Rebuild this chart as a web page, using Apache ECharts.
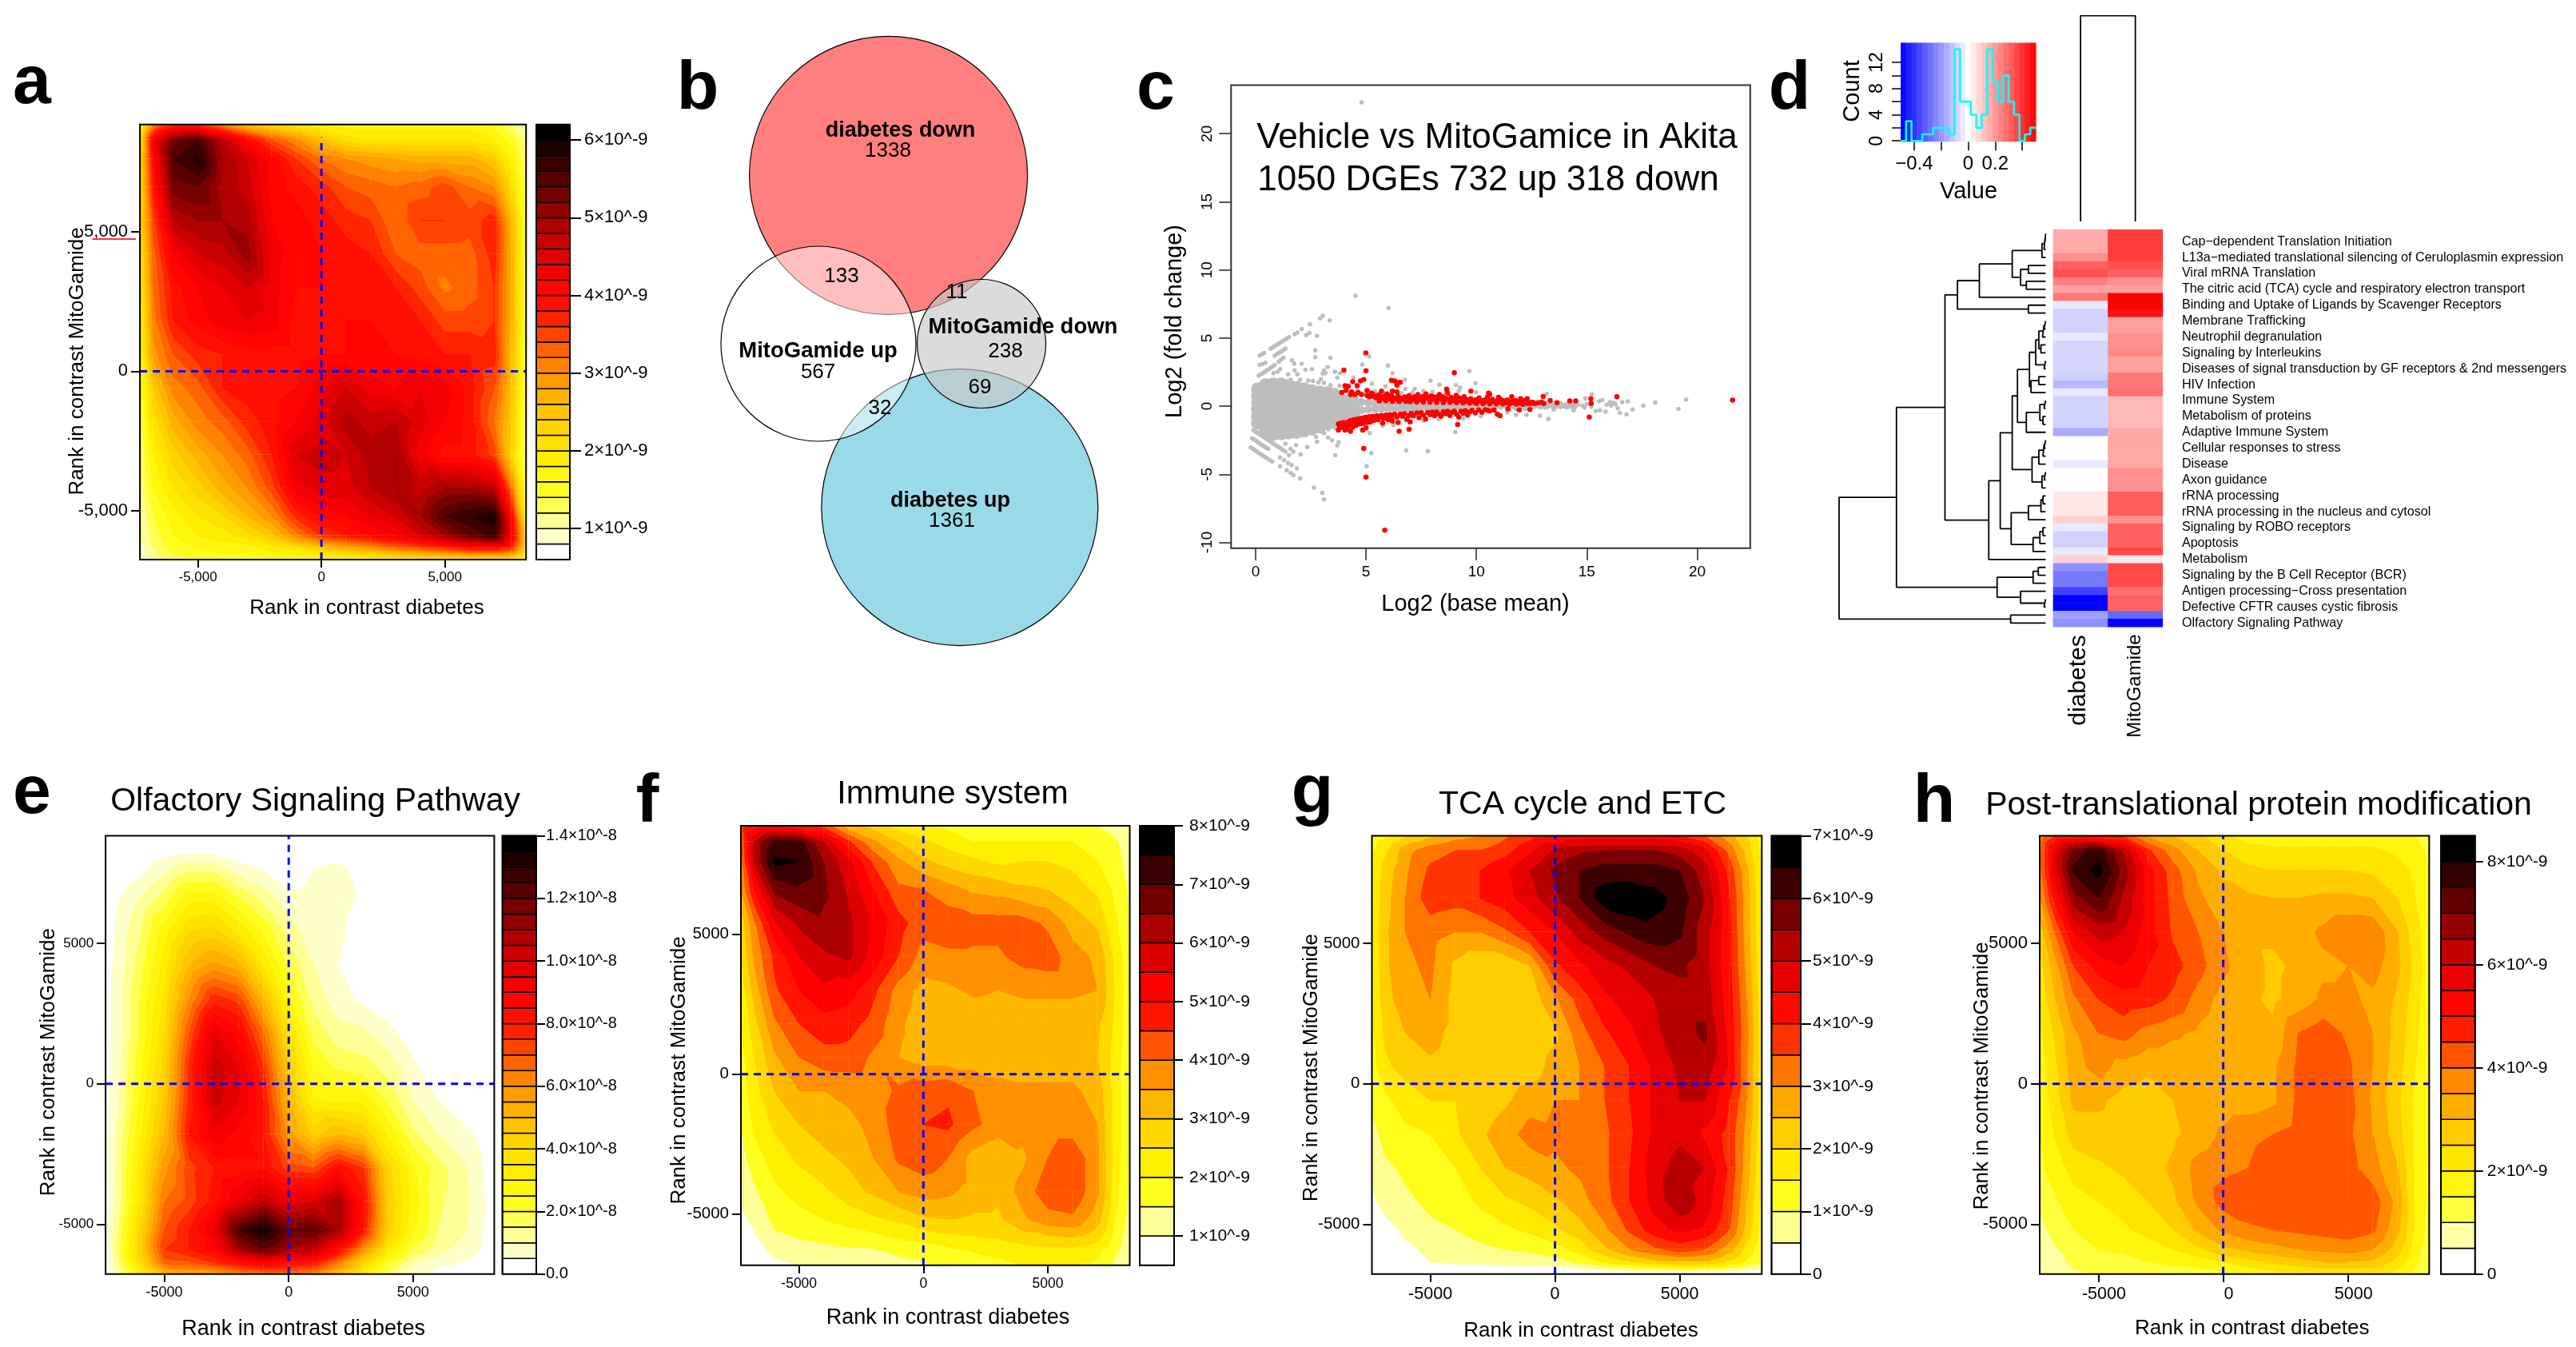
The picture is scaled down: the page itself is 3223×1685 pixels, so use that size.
<!DOCTYPE html>
<html><head><meta charset="utf-8"><style>html,body{margin:0;padding:0;background:#fff}#c{width:3223px;height:1685px}</style>
<script src="https://cdn.jsdelivr.net/npm/echarts@6/dist/echarts.min.js"></script></head><body><div id="c"></div>
<script>
// ---------- DATA ----------
const xNodes=[-7400,-6800,-6000,-5000,-4000,-3000,-2000,-1000,0,1000,2000,3000,4000,5000,6000,7000,7700,8300];
const yNodes=[8900,8300,7600,6600,5400,4200,3000,1800,600,-600,-1800,-3000,-4200,-5200,-5900,-6350,-6850];
const matA=[
[1.5,3,3.6,3.6,3.0,2.5,2.2,2,1.8,1.7,1.7,1.7,1.7,1.7,1.7,1.5,1.2,0.9],
[2,4.2,5.3,5.6,4.8,4,3.4,3,2.5,2.1,2,2,2,2,2,1.8,1.5,1.1],
[2.2,4,5.6,5.9,5,4.6,4.1,3.6,3.2,3,2.9,2.8,2.7,2.7,2.7,2.4,1.8,1.2],
[2.2,3.8,5.3,5.4,4.9,4.7,4.1,3.9,3.7,3.4,3.3,3.2,3.3,3.5,3.2,3,2.2,1.3],
[2.2,3.5,4.8,5,5,4.9,4.2,4.1,3.9,3.7,3.6,3.2,3.6,3.6,3.5,3.7,2.6,1.4],
[2,3.3,4.2,4.6,4.7,5.1,4.3,4.1,4,3.9,3.8,3.4,3.3,3.3,3.3,3.7,2.7,1.4],
[1.9,3.2,3.9,4.2,4.4,4.6,4.3,4,4,3.9,3.9,3.8,3.5,3.15,3.3,3.6,2.7,1.4],
[1.8,3.1,3.8,4.1,4.3,4.4,4.3,3.9,3.9,4,4,3.9,3.8,3.5,3.5,3.6,2.7,1.4],
[1.7,2.9,3.4,3.7,3.8,3.9,3.9,3.9,4,4,4,4,3.9,3.8,3.8,3.7,2.6,1.3],
[1.5,2.4,3.1,3.3,3.8,3.9,3.9,4,4.3,4.6,4.3,4.2,4.4,4.3,3.9,3.4,2.5,1.3],
[1.3,2.1,2.7,3.1,3.3,3.7,3.9,4.2,4.5,4.9,4.7,4.8,4.5,4.2,3.9,3.2,2.4,1.2],
[1.2,1.8,2.3,2.7,3,3.3,3.8,4.6,4.7,4.6,4.9,5,4.3,3.9,3.9,3.5,2.3,1.1],
[1.1,1.6,2,2.3,2.7,3,3.5,4.3,4.5,4.5,4.8,5,4.7,5,5,4.8,3.2,1.4],
[1,1.4,1.7,2,2.2,2.6,3,3.7,4,4.2,4.4,4.6,5,5.6,5.8,5.9,4,1.8],
[1,1.3,1.6,1.8,1.9,2.1,2.5,3.1,3.6,3.8,4,4.2,4.6,5,5.4,5.7,4.2,2.3],
[.9,1.2,1.5,1.6,1.7,1.7,1.9,2.1,2.4,2.7,2.9,3.2,3.4,3.6,3.9,3.9,3.6,2.2],
[.8,1.1,1.3,1.4,1.5,1.5,1.6,1.6,1.7,1.7,1.8,1.9,2,2,2.1,2,2,1.4]];
const matE=[
[0,0,0,0,0,0,0,0,0,0,0,0,0,0,0,0,0,0],
[0,0,0,.2,.3,.3,.1,0,0,.1,.2,0,0,0,0,0,0,0],
[0,0,.3,.9,1.4,1.4,.8,.5,.2,.5,.7,.2,0,0,0,0,0,0],
[0,.5,1,1.7,2.8,2.8,2,1.3,.6,.7,.7,.4,0,0,0,0,0,0],
[.2,.7,1.4,2.8,4,4.2,3.4,2.4,1.3,.7,.6,.2,0,0,0,0,0,0],
[.3,.7,1.7,3.2,5,5.7,5.2,3.4,1.9,1,.5,.1,0,0,0,0,0,0],
[.3,.8,2,3.6,6,7.8,7.3,5,2.6,1.3,.7,.4,.1,0,0,0,0,0],
[.3,.8,2,3.9,7,9.5,8.7,6.5,3.6,1.8,1.2,1.1,.7,.2,0,0,0,0],
[.3,.9,2.3,4.2,7.6,10.3,9.5,7.5,4.4,2.4,1.9,1.7,1.3,.6,.1,0,0,0],
[.3,1,2.5,4.6,7.7,10.2,9.5,8,5,3,2.9,2.9,1.9,1,.5,.1,0,0],
[.3,1.2,2.8,5,8,9.3,8.8,8,5.7,4.3,5,4.5,2.9,1.6,1,.7,.4,0],
[.3,1.3,3.2,5.8,7.3,8,8.2,8.4,7.2,7,8.4,7.5,4.2,2.6,1.7,1.1,.6,.1],
[.2,1.3,3.4,6.5,7.2,8.2,9.5,10.5,9.5,10,11,8.3,4.5,2.8,1.6,1.2,.7,.1],
[.2,1.6,4,7,8,9.5,12.5,13.5,12,12.2,11,8,4.4,2.6,1.5,1.1,.6,.1],
[.2,1.8,4.2,7.5,8,8.7,11,12,11,10.5,8.5,6,3.4,1.9,1.2,.8,.5,.1],
[.2,1.5,3.8,6.8,7,7.6,8.5,9,8.5,8.2,6.5,4.2,2.2,1.1,.6,.5,.3,0],
[.2,1.2,3,5,5.4,5.5,6,6.4,6.4,6,4.6,3,1.5,.6,.3,.3,.2,0]];
const matF=[
[4.2,4.7,4.8,4.5,4.3,3.2,2.8,2.3,2,1.9,1.8,1.8,1.8,1.7,1.6,1.5,1.2,1.1],
[4,6,7.2,7.2,6,4.6,3.6,3,2.6,2.3,2,2,2,2,2,1.8,1.6,1.2],
[3.8,6,7.6,7.5,6.5,5.6,4.4,3.6,3.1,2.8,2.6,2.4,2.5,2.5,2.4,2,1.7,1.3],
[3.5,5,6.6,6.9,6.6,5.9,5,4.1,4,3.7,3.4,3.3,3.1,3,2.7,2.4,1.9,1.4],
[2.7,3.9,5.4,6.1,6.4,6.1,5.4,4.7,4.2,4.3,4.2,4.2,4.2,3.9,3.3,2.9,2.1,1.5],
[2.5,3.6,4.6,5.5,5.9,6.1,5.3,4.5,3.8,3.9,3.9,3.9,4.2,4.3,3.7,3.4,2.4,1.6],
[2.2,3.2,4.4,5,5.4,5.2,4.6,3.8,3.3,3.4,3.6,3.5,3.6,3.6,3.6,3.5,2.5,1.6],
[2,2.8,3.9,4.5,4.8,4.7,4.3,3.6,3.2,3.1,3.1,3.1,3.2,3.2,3.2,3.1,2.4,1.6],
[1.8,2.5,3.4,4,4.3,4.3,3.9,3.5,3.2,3.2,3.2,3.2,3.2,3.2,3.2,3,2.3,1.6],
[1.7,2.3,3,3.5,3.5,3.6,3.7,4.1,4.3,4.4,4,3.7,3.6,3.6,3.6,3.3,2.3,1.5],
[1.5,2.1,2.6,3,3.2,3.4,3.6,4.3,4.5,4.6,4.1,3.8,3.7,3.7,3.7,3.5,2.3,1.5],
[1.3,1.8,2.2,2.6,2.9,3.1,3.5,4.1,4.3,4,3.3,3,3.4,4,4.4,3.6,2.3,1.5],
[1.1,1.4,1.9,2.2,2.4,2.8,3.1,3.5,3.7,3.6,3.3,3.1,3.7,4.3,4.4,3.6,2.2,1.4],
[.9,1.1,1.6,1.8,2,2.2,2.4,2.6,2.9,3,2.9,2.9,3.4,3.8,3.9,3.2,2,1.3],
[.7,.9,1.4,1.5,1.6,1.7,1.8,2,2.1,2.3,2.4,2.5,2.7,2.8,2.9,2.6,1.8,1.2],
[.7,.8,1.1,1.2,1.3,1.4,1.4,1.6,1.7,1.8,2,2.1,2.2,2.3,2.3,2.1,1.6,1.1],
[.6,.7,.9,1,1.1,1.2,1.2,1.3,1.4,1.6,1.8,1.9,2,2,2,1.9,1.4,1]];
const matG=[
[1.2,1.4,1.9,2.4,2.8,3,3.4,3.8,4,4.2,4.2,4.2,4.2,4,3.5,2.7,2,1.3],
[1.4,1.9,2.8,3.3,3.5,3.5,3.8,4.4,5.1,5.4,5.5,5.5,5.5,5.3,4.7,3.3,2.3,1.4],
[1.5,2.2,2.9,3.6,3.8,4,4.4,5,5.6,6,6.2,6.2,6.2,6,5.2,3.8,2.6,1.5],
[1.5,2.3,3,3.8,3.7,4,4.3,4.8,5.4,6,6.8,6.9,6.7,6.3,5.5,4,2.7,1.5],
[1.5,2.4,3,3.2,3,3,3.4,4,4.5,5.2,5.7,6.1,6.3,6.1,5.2,4.1,2.7,1.5],
[1.5,2.4,2.9,3.1,2.4,2.1,2.1,2.5,3.9,4.4,4.8,5.1,5.5,5.6,5.2,4.1,2.8,1.6],
[1.5,2.3,2.8,3,2.3,2.1,2.05,2.2,2.9,3.7,4.4,4.7,5,5.3,5.3,4.2,3,1.7],
[1.4,2.1,2.5,2.7,2.3,2.1,2.1,2.1,2.4,3.3,3.9,4.4,4.9,5.3,5.6,4.3,3.1,1.7],
[1.3,1.9,2.2,2.4,2.2,2.1,2.1,2.2,2.7,3,3.5,4,4.6,5.1,5.3,4.4,3,1.7],
[1.1,1.4,1.7,2,2,2.1,2.4,2.8,3,3,3.5,4,4.6,5,5,4,3,1.7],
[.8,1.2,1.4,1.5,1.9,2.4,2.8,3.2,3.1,3.1,3.4,3.9,4.6,4.9,4.4,3.8,2.8,1.6],
[.6,.9,1.1,1.3,1.5,2,2.5,2.7,2.9,3.1,3.4,4,4.8,5.2,5,3.9,2.7,1.5],
[.4,.7,.9,1.1,1.2,1.6,1.9,2.1,2.4,2.8,3.3,4,4.7,5.4,4.8,3.7,2.5,1.4],
[.2,.3,.6,.9,1,1.2,1.4,1.6,1.9,2.3,2.9,3.6,4.3,4.6,4.4,3.5,2.3,1.3],
[0,.1,.4,.6,.8,.9,1,1.1,1.3,1.7,2.4,3,3.4,3.7,3.5,2.7,1.8,1.1],
[0,0,.2,.5,.6,.6,.7,.7,.8,1.1,1.6,2,2.3,2.5,2.4,1.9,1.4,1],
[0,0,0,0,0,0,0,0,0,0,0,0,0,0,0,0,0,0]];
const matH=[
[3.6,4.4,4.6,4.5,4.4,3.4,3,2.6,2.1,1.8,1.7,1.7,1.7,1.7,1.7,1.7,1.5,1.3],
[3.8,5.6,7.2,7.8,6.4,4.6,3.7,3,2.5,2.2,2.1,2.1,2.1,2.1,2.1,1.9,1.7,1.4],
[3.8,5.6,7.6,8.2,6.8,5.2,4.2,3.4,2.9,2.6,2.5,2.5,2.5,2.5,2.4,2.2,1.9,1.5],
[3.4,5,6.8,7.5,6.4,5.2,4.3,3.6,3.2,3.1,3,3,3.1,3.1,3,2.5,2,1.6],
[2.7,3.9,5.5,6.2,6,5.2,4.4,4,3.5,3.1,3.1,3.3,3.6,3.9,3.9,3,2.2,1.7],
[2.3,3.2,4.5,5.2,5.5,5,4.7,4.2,3.6,3.2,2.9,3.1,3.4,3.5,3.7,3.1,2.3,1.7],
[2.1,2.9,3.9,4.5,4.8,4.7,4.4,3.8,3.3,3.1,2.9,3.2,3.6,3.6,3.4,2.9,2.2,1.6],
[1.9,2.5,3.4,4,4.2,3.8,3.6,3.4,3.1,3,3.1,4,4.3,3.9,3.5,2.8,2.1,1.6],
[1.7,2.3,3.3,3.7,3.3,3.1,3.1,3.1,3.2,3.2,3.4,4.1,4.4,4.1,3.5,2.7,2,1.5],
[1.6,2.2,3.1,3.1,2.8,2.7,3,3.1,3.2,3.2,3.4,4.1,4.3,4.2,3.4,2.6,1.9,1.5],
[1.5,2,2.7,2.8,2.7,2.6,2.9,3.2,3.6,3.9,4,4.2,4.3,4.1,3.5,2.7,1.9,1.5],
[1.4,1.7,2.2,2.4,2.6,2.8,3.1,3.7,3.9,4,4.2,4.3,4.3,4.2,3.7,3,1.9,1.4],
[1.1,1.4,1.8,2,2.2,2.5,2.9,3.6,4.2,4.3,4.4,4.4,4.4,4.4,4.3,3.3,1.9,1.4],
[.8,1.2,1.5,1.7,1.9,2.2,2.5,3.1,3.6,3.9,4,4.1,4.2,4.3,4.1,3.1,1.9,1.3],
[.6,.9,1.3,1.5,1.6,1.7,2,2.4,2.9,3.1,3.3,3.5,3.6,3.7,3.5,2.7,1.7,1.2],
[.5,.8,1.1,1.3,1.3,1.5,1.6,1.7,2,2.3,2.6,2.8,3,3,2.9,2.3,1.6,1.1],
[.5,.7,.9,1.1,1.1,1.2,1.3,1.3,1.4,1.6,1.8,1.9,2,2,2,1.8,1.3,1]];

const vennNames=['diabetes down','diabetes up','MitoGamide up','MitoGamide down'];
const vennCounts=[1338,1361,567,238];
const vennOverlaps=[133,11,32,69];
const vennCx=[231.6,320.8,144,348];
const vennCy=[199.4,614.7,410,410];
const vennR=[174,173,122,80.5];

const maTitle=['Vehicle vs MitoGamice in Akita','1050 DGEs 732 up 318 down'];
const grayCore=[[.1,1.25],[.1,.75],[.1,.25],[.1,-.25],[.1,-.75],[.1,-1.25],[.45,1.55],[.45,1],[.45,.45],[.45,-.1],[.45,-.65],[.45,-1.2],[.45,-1.75],[.8,1.6],[.8,1.05],[.8,.5],[.8,-.05],[.8,-.6],[.8,-1.15],[.8,-1.7],[.8,-2.05],[1.15,1.6],[1.15,1.05],[1.15,.5],[1.15,-.05],[1.15,-.6],[1.15,-1.15],[1.15,-1.7],[1.15,-2],[1.5,1.5],[1.5,.95],[1.5,.4],[1.5,-.15],[1.5,-.7],[1.5,-1.25],[1.5,-1.95],[1.85,1.35],[1.85,.8],[1.85,.25],[1.85,-.3],[1.85,-.85],[1.85,-1.4],[1.85,-1.9],[2.2,1.25],[2.2,.7],[2.2,.15],[2.2,-.4],[2.2,-.95],[2.2,-1.5],[2.2,-1.8],[2.55,1.1],[2.55,.55],[2.55,0],[2.55,-.55],[2.55,-1.1],[2.55,-1.65],[2.9,1],[2.9,.45],[2.9,-.1],[2.9,-.65],[2.9,-1.2],[2.9,-1.5],[3.25,.95],[3.25,.4],[3.25,-.15],[3.25,-.7],[3.25,-1.25],[3.55,.85],[3.55,.3],[3.55,-.25],[3.55,-.8],[3.55,-1.15],[3.85,.5],[3.85,0],[3.85,-.5],[3.85,-.9],[4.15,.35],[4.15,-.1],[4.15,-.6],[4.45,.25],[4.45,-.25],[4.45,-.55]];
const grayBand=[[4.8,.3],[4.8,-.3],[5.1,.25],[5.1,-.25],[5.4,.22],[5.4,-.22],[5.7,.2],[5.7,-.2],[6,.18],[6,-.2],[6.3,.15],[6.3,-.2],[6.6,.13],[6.6,-.18],[6.9,.12],[6.9,-.15],[7.2,.12],[7.2,-.15],[7.5,.1],[7.5,-.13],[7.8,.1],[7.8,-.12],[8.1,.08],[8.1,-.1],[8.4,.08],[8.4,-.1],[8.7,.07],[8.7,-.09],[9,.06],[9,-.08],[9.3,.05],[9.3,-.07],[9.6,.05],[9.9,.03],[10.2,.03],[10.5,.02],[10.8,.02],[11.1,.03],[11.4,.04],[11.7,.05],[12,.05],[12.3,.05],[12.6,.06],[12.9,.05],[13.2,.06],[13.5,.05],[13.8,.06],[14.1,.04],[14.4,.02]];
const grayPoints=[[4.8,22.3],[4.53,8.1],[6.02,7.2],[3.04,6.64],[2.92,6.44],[3.35,6.3],[2.46,6],[2.09,5.66],[1.89,5.4],[1.77,5.29],[1.51,5.07],[1.4,4.95],[1.29,4.84],[1.17,4.72],[1.08,4.62],[.99,4.54],[.9,4.45],[.81,4.35],[.69,4.23],[.39,3.9],[.3,3.82],[.18,3.72],[2.44,5.37],[2.29,5.21],[2.78,5.15],[1.35,4.23],[1.26,4.13],[1.17,4.03],[1.08,3.93],[.99,3.84],[.87,3.7],[1.26,3.55],[1.15,3.4],[1.05,3.27],[.45,3.18],[.3,3.08],[.18,3.02],[.87,3.02],[.78,2.92],[.69,2.82],[.6,2.72],[.51,2.63],[.42,2.53],[.33,2.43],[.23,2.33],[.14,2.24],[2.7,4.1],[2.7,3.6],[3.39,3.55],[5.14,3.64],[4.83,3.06],[5.99,2.98],[6.2,2.43],[9.68,2.57],[6.76,1.94],[7.92,1.86],[9.96,1.69],[8.32,1.57],[1.64,3.37],[1.75,3.12],[2.08,3.12],[2.26,2.67],[2.55,2.72],[3.1,2.63],[3.26,2.88],[3.6,2.53],[3.04,2.39],[3.16,2.43],[1.11,2.72],[.99,2.53],[.81,2.43],[1.47,2.33],[1.77,2.63],[1.89,2.33],[3.83,2.43],[3.7,2.1],[2.96,1.98],[2.38,1.88],[2.02,1.94],[1.59,1.94],[4.43,2.1],[5.27,1.65],[5.88,1.45],[6.78,1.26],[7.2,1.26],[9.07,1.55],[9.26,1.36],[9.98,1.02],[13.18,.9],[15.23,.87],[14.93,.57],[2.6,1.85],[2.85,1.75],[3.1,1.7],[3.4,1.55],[3.8,1.5],[4.05,1.35],[4.6,1.15],[5,1],[5.4,1.1],[5.8,.98],[6.6,.95],[7.1,.98],[7.6,1.1],[8,1.05],[8.6,.98],[9.2,1.1],
[-.22,-3.04],[-.12,-3.14],[-.04,-3.24],[.05,-3.33],[.14,-3.43],[.24,-3.53],[.33,-3.63],[.42,-3.73],[.51,-3.83],[.63,-3.95],[.75,-4.06],[1.11,-4.41],[1.41,-4.71],[1.59,-4.9],[1.71,-5.06],[2.02,-5.31],[2.64,-5.98],[3.02,-6.37],[3.1,-6.85],[-.16,-2.36],[-.07,-2.45],[.02,-2.55],[.11,-2.65],[.2,-2.75],[.3,-2.85],[.39,-2.95],[.48,-3.05],[.57,-3.14],[1.11,-3.77],[1.29,-3.97],[1.47,-4.18],[1.63,-4.32],[1.87,-4.57],[-.1,-1.77],[-.01,-1.87],[.08,-1.97],[.18,-2.07],[.27,-2.16],[.36,-2.26],[.45,-2.36],[.54,-2.46],[.63,-2.55],[.72,-2.65],[.81,-2.75],[.9,-2.85],[.99,-2.95],[1.08,-3.05],[1.17,-3.14],[1.26,-3.24],[1.35,-3.34],[1.51,-3.59],[1.35,-2.75],[1.59,-3.14],[1.71,-3.34],[1.83,-2.85],[2.04,-3.55],[2.34,-3],[2.74,-2.26],[3.1,-1.97],[2.78,-2.61],[3.28,-2.3],[3.46,-2.5],[3.76,-2.65],[3.7,-2.89],[3.61,-3.61],[5.17,-1.97],[5.24,-3.45],[5.03,-4.41],[6.82,-3.26],[7.8,-3.3],[9.05,-1.91],[13.26,-.93],[15.59,-.31],[12.88,-.7],[12.27,-.64],[11.79,-.64],[5.76,-1.44],[6.24,-1.38],[2.6,-2],[2.95,-1.85],[3.3,-1.7],[3.6,-1.6],[6.8,-1.05],[7.6,-1.05],[8.3,-.95],[9.4,-.9],[10.2,-.75],[10.9,-.5],[11.4,-.45],
[19.5,.49],[19.15,-.2],[18.1,.27],[17.56,.03],[17.07,-.24],[16.8,-.6],[16.85,.35],[16.6,.3],[16.5,-.5],[16.4,-.15],[16.2,.25],[16.05,.3],[15.9,.1],[15.7,.45],[15.55,.35],[15.4,-.35],[15,.15],[14.8,.05],[14.6,.1],[14.4,-.3],[14.2,.1],[14,0],[13.8,.1],[13.6,-.05],[13.5,-.25],[13.3,.15],[13.1,-.1],[13,.25],[12.8,.1],[16.3,.15],[16.1,.05],[15.85,-.4],[15.2,-.05],[14.9,-.1],[12.5,-.1],[12.2,-.2],[11.8,-.2]];
const redUp=[[4.99,3.9],[4,2.65],[5,2.6],[4.75,1.85],[4.9,1.95],[4.4,1.8],[4.05,1.5],[6.15,1.9],[6.3,1.85],[6.5,1.75],[6.4,1.55],[6.55,1.75],[9,2.45],[8.65,1.25],[9.75,1.1],[10.55,.95],[10.6,.85],[4.6,1.5],[4.2,1.45],[3.9,1],[4.1,1.15],[4.35,1.05],[4.65,1],[4.3,.85],[4.5,.85],[4.8,.85],[5.05,1.15],[5.3,.9],[5.6,.8],[5.7,1.1],[5.95,.9],[6.2,1.1],[6.4,1.05],[6.1,.7],[11,.65],[11.6,.7],[12,.55],[12.3,.55],[13.02,.71],[13.34,.42],[13.65,.26],[14.23,.38],[14.5,.38],[15.18,.55],[15.2,.2],[16.36,.69],[21.6,.45],
[5.05,.78],[5.15,.7],[5.25,.95],[5.35,.72],[5.45,.62],[5.55,.82],[5.65,.7],[5.75,.58],[5.85,.75],[5.95,.62],[6.05,.55],[6.15,.8],[6.25,.62],[6.35,.55],[6.45,.72],[6.55,.6],[6.65,.5],[6.75,.68],[6.85,.55],[6.95,.78],[7.05,.58],[7.12,.48],[7.2,.7],[7.28,.55],[7.35,.85],[7.42,.6],[7.5,.47],[7.58,.72],[7.65,.55],[7.72,.9],[7.8,.6],[7.88,.45],[7.95,.75],[8.02,.52],[8.1,.68],[8.18,.43],[8.25,.6],[8.32,.85],[8.4,.5],[8.48,.7],[8.55,.42],[8.62,.58],[8.7,.95],[8.78,.48],[8.85,.65],[8.92,.4],[9,.55],[9.08,.8],[9.15,.42],[9.22,.6],[9.3,.38],[9.38,.52],[9.45,.7],[9.52,.36],[9.6,.48],[9.68,.33],[9.75,.55],[9.82,.4],[9.9,.3],[9.98,.47],[10.05,.33],[10.12,.6],[10.2,.38],[10.28,.28],[10.35,.45],[10.42,.32],[10.5,.68],[10.58,.4],[10.65,.28],[10.72,.5],[10.8,.35],[10.88,.27],[10.95,.42],[11.02,.3],[11.1,.5],[11.18,.27],[11.25,.38],[11.32,.25],[11.4,.45],[11.48,.3],[11.55,.24],[11.62,.35],[11.7,.25],[11.78,.42],[11.85,.28],[11.92,.22],[12,.33],[12.08,.24],[12.15,.4],[12.22,.25],[12.3,.2],[12.38,.3],[12.45,.2],[12.55,.28],[12.65,.2],[12.8,.25],[12.95,.3],[13.05,.2],
[5.6,.38],[5.9,.4],[6.2,.36],[6.5,.34],[6.8,.35],[7,.32],[7.3,.3],[7.6,.3],[7.9,.28],[8.2,.27],[8.5,.26],[8.8,.27],[9.1,.25],[9.4,.24],[9.7,.22],[10,.2],[10.3,.18],[10.6,.17],[10.9,.17],[11.2,.16],[11.5,.15],[11.8,.15],[12.1,.14]];
const redDown=[[4.9,-3.1],[5,-5.2],[5.85,-9.1],[6.5,-1.85],[6.95,-1.7],[9.15,-1.35],[15.11,-.8],[4.05,-1.75],[3.75,-1.75],[4.3,-1.85],[4.85,-1.75],[5,-1.6],[3.75,-1.3],[3.8,-1.45],[3.85,-1.25],[3.9,-1.55],[3.95,-1.35],[4,-1.2],[4.05,-1.5],[4.1,-1.3],[4.15,-1.7],[4.2,-1.15],[4.25,-1.4],[4.3,-1.05],[4.35,-1.25],[4.4,-1.55],[4.45,-1],[4.5,-1.2],[4.55,-1.4],[4.6,-.95],[4.65,-1.15],[4.7,-1.3],[4.75,-.9],[4.8,-1.1],[4.85,-1.28],[4.9,-.85],[4.95,-1.05],[5,-.8],[5.05,-1.2],[5.1,-.95],[5.15,-.78],[5.2,-1.15],[5.25,-.9],[5.3,-.75],[5.35,-1.05],[5.4,-.85],[5.5,-.7],[5.55,-1],[5.6,-.8],[5.7,-.68],[5.75,-1.25],[5.8,-.9],[5.9,-.65],[5.95,-.82],[6,-1],[6.1,-.62],[6.15,-.85],[6.2,-1.1],[6.3,-.6],[6.4,-.8],[6.45,-1.2],[6.55,-.58],[6.65,-.75],[6.75,-.55],[6.85,-.95],[6.95,-.68],[7,-1.15],[7.05,-.52],[7.15,-.72],[7.3,-.5],[7.4,-.85],[7.5,-.48],[7.6,-.65],[7.7,-.95],[7.8,-.46],[7.9,-.62],[8,-.44],[8.1,-.7],[8.2,-.42],[8.3,-.58],[8.4,-.75],[8.5,-.4],[8.6,-.55],[8.7,-.38],[8.8,-.68],[8.9,-.45],[9,-.36],[9.1,-.6],[9.2,-.8],[9.3,-.38],[9.4,-.52],[9.5,-.33],[9.6,-.65],[9.7,-.42],[9.8,-.3],[9.95,-.5],[10.1,-.28],[10.25,-.45],[10.4,-.26],[10.5,-.3],[10.6,-.35],[10.8,-.28],[10.95,-.6],[11.07,-.7],[11.43,-.2],[11.94,-.27],[12.42,-.25]];

const pathwayLabels=['Cap\u2212dependent Translation Initiation','L13a\u2212mediated translational silencing of Ceruloplasmin expression','Viral mRNA Translation','The citric acid (TCA) cycle and respiratory electron transport','Binding and Uptake of Ligands by Scavenger Receptors','Membrane Trafficking','Neutrophil degranulation','Signaling by Interleukins','Diseases of signal transduction by GF receptors & 2nd messengers','HIV Infection','Immune System','Metabolism of proteins','Adaptive Immune System','Cellular responses to stress','Disease','Axon guidance','rRNA processing','rRNA processing in the nucleus and cytosol','Signaling by ROBO receptors','Apoptosis','Metabolism','Signaling by the B Cell Receptor (BCR)','Antigen processing\u2212Cross presentation','Defective CFTR causes cystic fibrosis','Olfactory Signaling Pathway'];
const heatColumns=['diabetes','MitoGamide'];
const diabetesValues=[.167,.167,.167,.218,.312,.343,.249,.186,.265,-.045,-.088,-.088,-.088,-.045,-.082,-.082,-.082,-.082,-.092,-.139,-.045,-.088,-.088,-.088,-.088,-.167,0,0,0,-.045,0,0,0,.045,.045,.045,.092,-.045,-.088,-.088,-.045,.092,-.218,-.265,-.265,-.373,-.5,-.5,-.186,-.218];
const mitoValues=[.382,.382,.382,.382,.343,.312,.218,.186,.5,.5,.469,.186,.186,.218,.218,.233,.186,.186,.265,.265,.28,.139,.139,.139,.139,.17,.17,.17,.17,.17,.218,.218,.218,.32,.32,.32,.218,.312,.312,.312,.359,.045,.359,.359,.359,.28,.312,.312,-.296,-.5];
const histCounts=[0,3,0,0,1,1,2,2,2,1,14,6,6,4,2,4,14,9,6,10,6,4,0,1,2];
const rowTree=[396,[286,[193,[169,[127,[64,[7,[3,[1,0,1],2],3],[48,[33,4,5],[37,6,7]]],8],[33,9,10]],[109,[87,[64,[54,[31,[19,[13,[6,[3,11,12],13],[9,14,15]],[3,16,17]],[28,[13,18,19],20]],[37,[11,[3,21,22],[5,23,24]],25]],[26,[13,[5,[3,26,27],28],29],[7,[3,30,31],32]]],[66,[33,[9,[5,33,34],35],36],[24,[11,[5,37,38],39],40]]],41]],[93,[24,[14,42,43],44],[48,45,[3,46,47]]]],[67,48,49]];
const colTree=[100,0,1];

// ---------- LAYOUT AND STYLE ----------
const FONT='"Liberation Sans",Arial,sans-serif';
const RAMP=['#ffffff','#ffff99','#ffff20','#fff000','#ffd800','#ffb800','#ff9000','#ff5500','#ff1500','#ff0000','#dd0000','#aa0000','#700000','#380000','#000000'];
function hex(c){return [1,3,5].map(i=>parseInt(c.substr(i,2),16));}
function rampColor(t){const p=t*(RAMP.length-1),i=Math.min(Math.floor(p),RAMP.length-2),f=p-i,a=hex(RAMP[i]),b=hex(RAMP[i+1]);
 return 'rgb('+a.map((v,k)=>Math.round(v+(b[k]-v)*f)).join(',')+')';}
function diverge(v){const c=Math.round(255*(1-Math.min(1,Math.abs(v)/.5)));return v>=0?`rgb(255,${c},${c})`:`rgb(${c},${c},255)`;}
const panels=[
 {mat:matA,l:175.1,r:658.2,t:155.8,b:700,xr:[-7346,8285],yr:[-6754,8847],xt:[-5000,0,5000],yt:[-5000,0,5000],comma:true,xf:17,yf:22,
  vTop:8400,cb:[671,713],lo:.6,step:.2,n:28,cbt:[1,2,3,4,5,6],cbl:['1×10^-9','2×10^-9','3×10^-9','4×10^-9','5×10^-9','6×10^-9'],cf:22,cbm:18,tl:14},
 {mat:matE,l:132.1,r:618.4,t:1045.5,b:1593.8,xr:[-7362,8264],yr:[-6776,8828],xt:[-5000,0,5000],yt:[-5000,0,5000],xf:18,yf:17,
  cb:[628.6,671],lo:0,step:.5,n:28,cbt:[0,2,4,6,8,10,12,14],cbl:['0.0','2.0×10^-8','4.0×10^-8','6.0×10^-8','8.0×10^-8','1.0×10^-8','1.2×10^-8','1.4×10^-8'],cf:20,cbm:12,tl:11},
 {mat:matF,l:927,r:1413.5,t:1033,b:1582.7,xr:[-7336,8297],yr:[-6829,8877],xt:[-5000,0,5000],yt:[-5000,0,5000],xf:17.5,yf:20.5,
  cb:[1426,1469],lo:.5,step:.5,n:15,cbt:[1,2,3,4,5,6,7,8],cbl:['1×10^-9','2×10^-9','3×10^-9','4×10^-9','5×10^-9','6×10^-9','7×10^-9','8×10^-9'],cf:21,cbm:19,tl:11},
 {mat:matG,l:1716.5,r:2204.3,t:1045.5,b:1593.8,xr:[-7343,8292],yr:[-6776,8828],xt:[-5000,0,5000],yt:[-5000,0,5000],xf:21.5,yf:20.5,
  cb:[2216.5,2253],lo:0,step:.5,n:14,cbt:[0,1,2,3,4,5,6,7],cbl:['0','1×10^-9','2×10^-9','3×10^-9','4×10^-9','5×10^-9','6×10^-9','7×10^-9'],cf:21,cbm:15,tl:13},
 {mat:matH,l:2552,r:3039.3,t:1045.5,b:1593.8,xr:[-7350,8250],yr:[-6776,8828],xt:[-5000,0,5000],yt:[-5000,0,5000],xf:21.5,yf:22,xpad:14,
  cb:[3054,3096.7],lo:0,step:.5,n:17,cbt:[0,2,4,6,8],cbl:['0','2×10^-9','4×10^-9','6×10^-9','8×10^-9'],cf:21,cbm:15,tl:10}];
const grid=[],xAxis=[],yAxis=[],series=[],graphic=[],visualMap=[];
const noLine={show:false,onZero:false};
function addGrid(l,r,t,b,x,y){grid.push({left:l,top:t,width:r-l,height:b-t,containLabel:false});const i=grid.length-1;
 xAxis.push(Object.assign({gridIndex:i,type:'value',show:false,splitLine:{show:false},axisLine:noLine},x));
 yAxis.push(Object.assign({gridIndex:i,type:'value',show:false,splitLine:{show:false},axisLine:noLine},y));return i;}
function T(text,x,y,size,o={}){const off=o.raw?0:size*.1;return {type:'text',x:o.rot?x+off*.5:x,y:o.rot?y:y+off,rotation:o.rot?Math.PI/2:0,silent:true,z:30,style:{text,fontSize:size,fontFamily:FONT,fontWeight:o.bold?'bold':'normal',fill:'#000',align:o.align||'center',verticalAlign:'middle'}};}
function box(l,r,t,b,color,w){graphic.push({type:'rect',silent:true,z:25,shape:{x:l,y:t,width:r-l,height:b-t},style:{fill:'none',stroke:color||'#000',lineWidth:w||2}});}
function clipTri(tri,L){const out=[];for(let i=0;i<3;i++){const a=tri[i],b=tri[(i+1)%3];
  if(a[2]>=L)out.push([a[0],a[1]]);
  if((a[2]>=L)!==(b[2]>=L)){const f=(L-a[2])/(b[2]-a[2]);out.push([a[0]+(b[0]-a[0])*f,a[1]+(b[1]-a[1])*f]);}}
 return out;}
function poly(points,fill){return {type:'polygon',shape:{points},style:{fill,stroke:fill,lineWidth:.8},silent:true};}
panels.forEach(p=>{
 const fmt=v=>{if(v===0)return '0';return p.comma?(v<0?'-':'')+Math.abs(v).toLocaleString('en-US'):String(v);};
 const g=addGrid(p.l,p.r,p.t,p.b,
  {show:true,min:p.xr[0],max:p.xr[1],axisTick:{show:true,customValues:p.xt,length:10,lineStyle:{color:'#000',width:2}},
   axisLabel:{show:true,customValues:p.xt,margin:14,fontSize:p.xf,fontFamily:FONT,color:'#000',formatter:fmt,padding:p.xpad?[0,0,0,p.xpad]:0}},
  {show:true,min:p.yr[0],max:p.yr[1],axisTick:{show:true,customValues:p.yt,length:11,lineStyle:{color:'#000',width:2}},
   axisLabel:{show:true,customValues:p.yt,margin:15,fontSize:p.yf,fontFamily:FONT,color:'#000',formatter:fmt}});
 const levels=[],colors=[];for(let k=0;k<p.n;k++){levels.push(p.lo+k*p.step);colors.push(rampColor(k/(p.n-1)));}
 const cells=[];for(let j=0;j<yNodes.length-1;j++)for(let i=0;i<xNodes.length-1;i++)
  cells.push([xNodes[i],yNodes[j],xNodes[i+1],yNodes[j+1],p.mat[j][i],p.mat[j][i+1],p.mat[j+1][i],p.mat[j+1][i+1]]);
 const cx=v=>Math.max(p.xr[0],Math.min(p.xr[1],v)),cy=v=>Math.max(p.yr[0],Math.min(p.yr[1],v));
 series.push({type:'custom',xAxisIndex:g,yAxisIndex:g,silent:true,data:cells,encode:{x:[0,2],y:[1,3]},z:2,
  renderItem:(params,api)=>{
   const x0=cx(api.value(0)),y0=cy(api.value(1)),x1=cx(api.value(2)),y1=cy(api.value(3));
   const v=[api.value(4),api.value(5),api.value(6),api.value(7)];
   const P=(x,y,val)=>{const c=api.coord([x,y]);return [c[0],c[1],val];};
   const A=P(x0,y0,v[0]),B=P(x1,y0,v[1]),C=P(x0,y1,v[2]),D=P(x1,y1,v[3]);
   const children=[],mn=Math.min(...v),mx=Math.max(...v);
   let base=-1;for(let k=0;k<levels.length;k++)if(levels[k]<=mn)base=k;
   if(base>=0)children.push(poly([[A[0],A[1]],[B[0],B[1]],[D[0],D[1]],[C[0],C[1]]],colors[base]));
   for(let k=base+1;k<levels.length&&levels[k]<=mx;k++){
    [[A,B,D],[A,D,C]].forEach(tri=>{const o=clipTri(tri,levels[k]);if(o.length>=3)children.push(poly(o,colors[k]));});}
   return {type:'group',children};
  }});
 const dash={color:'#0000ff',width:3,type:[9,7]};
 series.push({type:'line',xAxisIndex:g,yAxisIndex:g,data:[[0,p.yr[0]],[0,p.vTop||p.yr[1]]],symbol:'none',lineStyle:dash,z:5,silent:true});
 series.push({type:'line',xAxisIndex:g,yAxisIndex:g,data:[[p.xr[0],0],[p.xr[1],0]],symbol:'none',lineStyle:dash,z:5,silent:true});
 box(p.l,p.r,p.t,p.b);
 // colour bar
 const hi=p.lo+p.n*p.step;
 const bar=addGrid(p.cb[0],p.cb[1],p.t,p.b,{min:0,max:1},
  {show:true,position:'right',min:p.lo,max:hi,axisTick:{show:true,customValues:p.cbt,length:p.tl,lineStyle:{color:'#000',width:2}},
   axisLabel:{show:true,customValues:p.cbt,margin:p.cbm,fontSize:p.cf,fontFamily:FONT,color:'#000',formatter:v=>p.cbl[p.cbt.indexOf(v)]}});
 series.push({type:'custom',xAxisIndex:bar,yAxisIndex:bar,silent:true,z:3,data:levels.map((L,k)=>[0,L,1,L+p.step,k]),encode:{x:[0,2],y:[1,3]},
  renderItem:(params,api)=>{const a=api.coord([0,api.value(1)]),b=api.coord([1,api.value(3)]);
   return {type:'rect',shape:{x:a[0],y:b[1],width:b[0]-a[0],height:a[1]-b[1]},style:{fill:colors[api.value(4)],stroke:'#000',lineWidth:1.5},silent:true};}});
 box(p.cb[0],p.cb[1],p.t,p.b);
});
// shared text of contour panels
[[ 'Rank in contrast diabetes',459,758,26],['Rank in contrast diabetes',379.6,1659.5,27],['Rank in contrast diabetes',1186,1645.6,27],['Rank in contrast diabetes',1978,1662.7,26],['Rank in contrast diabetes',2817.7,1659,26]].forEach(a=>graphic.push(T(...a)));
[[95.5,452],[60,1328.6],[848.7,1339],[1639.5,1335.6],[2478.7,1346]].forEach(a=>graphic.push(T('Rank in contrast MitoGamide',a[0],a[1],26,{rot:true})));
graphic.push(T('Olfactory Signaling Pathway',394.6,999,41),T('Immune system',1192,990,41),T('TCA cycle and ETC',1980,1002.5,41),T('Post-translational protein modification',2826,1004,41));
[['a',40,105],['b',873,112],['c',1446,112],['d',2239,112],['e',40,993],['f',810,1004],['g',1642,992],['h',2420,1004]].forEach(a=>graphic.push(T(a[0],a[1],a[2],86,{bold:true,raw:true})));
graphic.push({type:'rect',silent:true,z:30,shape:{x:115.4,y:298,width:54.6,height:2},style:{fill:'#ff3048'}});

// Venn (b)
const vg=addGrid(880,1400,20,820,{min:0,max:520},{min:0,max:800,inverse:true});
const vennFill=['rgba(255,0,0,.5)','rgba(51,179,209,.5)','rgba(255,255,255,.5)','rgba(200,200,200,.66)'];
series.push({type:'custom',xAxisIndex:vg,yAxisIndex:vg,silent:true,z:2,data:vennCx.map((x,i)=>[x,vennCy[i],vennR[i],i]),encode:{x:0,y:1},
 renderItem:(params,api)=>{const c=api.coord([api.value(0),api.value(1)]),r=api.size([api.value(2),0])[0];
  return {type:'circle',shape:{cx:c[0],cy:c[1],r},style:{fill:vennFill[api.value(3)],stroke:'#000',lineWidth:1.2},silent:true};}});
graphic.push(T(vennNames[0],1126.6,160.7,27,{bold:true}),T(String(vennCounts[0]),1111,186.7,26),
 T(vennNames[1],1189,624,27,{bold:true}),T(String(vennCounts[1]),1191,649,26),
 T(vennNames[2],1023.6,437,27.5,{bold:true}),T(String(vennCounts[2]),1023.6,463,26),
 T(vennNames[3],1280,407,27.5,{bold:true}),T(String(vennCounts[3]),1258,437,26),
 T(String(vennOverlaps[0]),1053,343,26),T(String(vennOverlaps[1]),1197,363,26),T(String(vennOverlaps[2]),1101,508,26),T(String(vennOverlaps[3]),1226,482,26));

// MA plot (c)
const mg=addGrid(1540.3,2189.8,106.4,685.8,
 {show:true,min:-1.11,max:22.4,axisTick:{show:true,customValues:[0,5,10,15,20],length:15,lineStyle:{color:'#222',width:1.5}},
  axisLabel:{show:true,customValues:[0,5,10,15,20],margin:20,fontSize:19,fontFamily:FONT,color:'#000'}},
 {show:true,min:-10.43,max:23.57,axisTick:{show:true,customValues:[-10,-5,0,5,10,15,20],length:15,lineStyle:{color:'#222',width:1.5}},
  axisLabel:{show:true,customValues:[-10,-5,0,5,10,15,20],margin:20,rotate:90,fontSize:19,fontFamily:FONT,color:'#000'}});
const sc=(d,size,color,z)=>series.push({type:'scatter',xAxisIndex:mg,yAxisIndex:mg,data:d,symbolSize:size,itemStyle:{color,opacity:1},z,silent:true,large:false});
const GRAY='#bdbdbd';
sc(grayCore,17,GRAY,2);sc(grayBand,10,GRAY,2);sc(grayPoints,5.5,GRAY,2);sc(redUp,6.5,'#ff0000',3);sc(redDown,6.5,'#ff0000',3);
box(1540.3,2189.8,106.4,685.8,'#333',2);
graphic.push(T(maTitle[0],1873,168,44),T(maTitle[1],1862,221,44),T('Log2 (fold change)',1469,402,29,{rot:true}),T('Log2 (base mean)',1846,753,29));

// Heatmap (d)
const rowNames=diabetesValues.map((_,i)=>i%2===1?pathwayLabels[(i-1)/2]:'');
const hg=addGrid(2568.9,2705.9,287.3,784.3,{type:'category',data:heatColumns},
 {show:true,type:'category',data:rowNames,inverse:true,position:'right',axisTick:{show:false},
  axisLabel:{show:true,interval:0,margin:24,fontSize:16.1,fontFamily:FONT,color:'#000',padding:[4,0,0,0]}});
const heatData=[];diabetesValues.forEach((v,i)=>{heatData.push([0,i,v]);heatData.push([1,i,mitoValues[i]]);});
series.push({type:'heatmap',xAxisIndex:hg,yAxisIndex:hg,data:heatData,silent:true,z:2,progressive:0});
visualMap.push({type:'continuous',show:false,seriesIndex:series.length-1,dimension:2,min:-.5,max:.5,inRange:{color:['#0000ff','#ffffff','#ff0000']}});
graphic.push(T(heatColumns[0],2599,851,30,{rot:true}),T(heatColumns[1],2670,858,24,{rot:true}));
// dendrograms
function walk(n,out){if(typeof n==='number')return {h:0,y:n+.5};const a=walk(n[1],out),b=walk(n[2],out);
 out.push([a.h,a.y],[n[0],a.y],[n[0],b.y],[b.h,b.y],[null,null]);return {h:n[0],y:(a.y+b.y)/2};}
const rowSegs=[];walk(rowTree,rowSegs);
const rd=addGrid(2301,2559.4,287.3,784.3,{min:0,max:396,inverse:true},{min:0,max:50,inverse:true});
series.push({type:'line',xAxisIndex:rd,yAxisIndex:rd,data:rowSegs,symbol:'none',connectNulls:false,lineStyle:{color:'#000',width:1.8},silent:true});
const colSegs=[];walk(colTree,colSegs);
const cd=addGrid(2568.9,2705.9,19.6,277,{min:0,max:2},{min:0,max:100});
series.push({type:'line',xAxisIndex:cd,yAxisIndex:cd,data:colSegs.map(s=>[s[1],s[0]]),symbol:'none',connectNulls:false,lineStyle:{color:'#000',width:1.8},silent:true});
// colour key
const kg=addGrid(2378,2547,53.4,177.3,
 {show:true,min:-.5,max:.5,axisTick:{show:true,customValues:[-.4,-.2,0,.2,.4],length:11,lineStyle:{color:'#000',width:1.5}},
  axisLabel:{show:true,customValues:[-.4,0,.2],margin:16,fontSize:24,fontFamily:FONT,color:'#000',formatter:v=>v<0?'\u2212'+Math.abs(v):String(v)}},
 {show:true,min:-.13,max:15,axisTick:{show:true,customValues:[0,2,4,6,8,10,12],length:11,lineStyle:{color:'#000',width:1.5}},
  axisLabel:{show:true,customValues:[0,4,8,12],margin:18,rotate:90,fontSize:23,fontFamily:FONT,color:'#000'}});
const binW=1/histCounts.length;
series.push({type:'custom',xAxisIndex:kg,yAxisIndex:kg,silent:true,z:2,data:histCounts.map((_,i)=>[-.5+i*binW,-.5+(i+1)*binW]),encode:{x:[0,1]},
 renderItem:(params,api)=>{const a=api.coord([api.value(0),15]),b=api.coord([api.value(1),-.13]);
  return {type:'rect',shape:{x:a[0],y:a[1],width:b[0]-a[0]+.6,height:b[1]-a[1]},style:{fill:diverge((api.value(0)+api.value(1))/2)},silent:true};}});
const histLine=histCounts.map((c,i)=>[-.5+i*binW,c]);histLine.push([.5,histCounts[histCounts.length-1]]);
series.push({type:'line',xAxisIndex:kg,yAxisIndex:kg,data:histLine,step:'end',symbol:'none',lineStyle:{color:'#00ffff',width:2.6},z:3,silent:true});
graphic.push(T('Count',2317,114,29,{rot:true}),T('Value',2463,237,29));

const chart=echarts.init(document.getElementById('c'),null,{renderer:'canvas',width:3223,height:1685});
chart.setOption({animation:false,backgroundColor:'#fff',tooltip:{show:false},grid,xAxis,yAxis,series,visualMap,graphic});
</script></body></html>
